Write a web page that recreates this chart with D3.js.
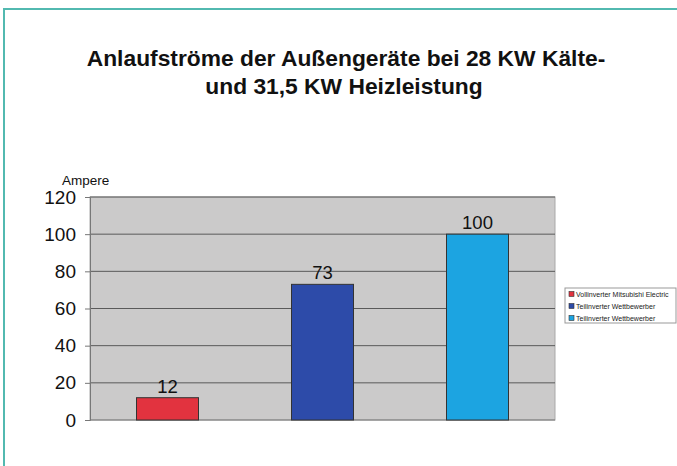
<!DOCTYPE html>
<html>
<head>
<meta charset="utf-8">
<script src="https://cdn.jsdelivr.net/npm/d3@7"></script>
<style>
  body { margin: 0; background: #fff; }
  svg text { font-family: "Liberation Sans", Arial, sans-serif; }
</style>
</head>
<body>
<div id="chart"></div>
<script>
// chart data
var categories = ["Vollinverter Mitsubishi Electric", "Teilinverter Wettbewerber", "Teilinverter Wettbewerber "];
var values = [12, 73, 100];
var barColors = ["#e2333f", "#2d4ba9", "#1ca4e1"];
var yTicks = [0, 20, 40, 60, 80, 100, 120];
var titleLines = ["Anlaufströme der Außengeräte bei 28 KW Kälte-", "und 31,5 KW Heizleistung"];

var svgWidth = 677;
var svgHeight = 466;

var margin = { top: 197, right: 122, bottom: 46, left: 90 };
var width = svgWidth - margin.left - margin.right;
var height = svgHeight - margin.top - margin.bottom;

var svg = d3.select("#chart")
  .append("svg")
  .attr("width", svgWidth)
  .attr("height", svgHeight);

// teal frame at top and left
svg.append("line")
  .attr("x1", 3).attr("y1", 9).attr("x2", svgWidth).attr("y2", 9)
  .attr("stroke", "#52b9b0").attr("stroke-width", 2);
svg.append("line")
  .attr("x1", 4).attr("y1", 8).attr("x2", 4).attr("y2", svgHeight)
  .attr("stroke", "#52b9b0").attr("stroke-width", 2);

// title
svg.selectAll(".title")
  .data(titleLines)
  .enter()
  .append("text")
  .attr("class", "title")
  .attr("x", (d, i) => i == 0 ? 346 : 344)
  .attr("y", (d, i) => 66 + i * 28)
  .style("text-anchor", "middle")
  .style("font-size", "22.8px")
  .style("font-weight", "bold")
  .style("fill", "#111")
  .text(d => d);

var chartGroup = svg.append("g")
  .attr("transform", `translate(${margin.left}, ${margin.top})`);

var xScale = d3.scaleBand()
  .domain(categories)
  .range([0, width])
  .paddingInner(0.6)
  .paddingOuter(0.3);

var yScale = d3.scaleLinear()
  .domain([0, 120])
  .range([height, 0]);

// plot background
chartGroup.append("rect")
  .attr("x", 0).attr("y", 0)
  .attr("width", width).attr("height", height)
  .attr("fill", "#cbcaca")
  .attr("stroke", "#a9a9a9");

// grid lines
chartGroup.selectAll(".grid")
  .data(yTicks.slice(1))
  .enter()
  .append("line")
  .attr("class", "grid")
  .attr("x1", 0).attr("x2", width)
  .attr("y1", d => yScale(d)).attr("y2", d => yScale(d))
  .attr("stroke", "#5a5a5a")
  .attr("stroke-width", 1);

var leftAxis = d3.axisLeft(yScale)
  .tickValues(yTicks)
  .tickSize(5)
  .tickPadding(9);

var yAxis = chartGroup.append("g").call(leftAxis);
yAxis.select(".domain").attr("stroke", "#777");
yAxis.selectAll(".tick line").attr("stroke", "#777");
yAxis.selectAll("text")
  .style("font-size", "19px")
  .style("fill", "#111");

chartGroup.append("line")
  .attr("x1", 0).attr("x2", width)
  .attr("y1", height).attr("y2", height)
  .attr("stroke", "#777");

chartGroup.append("text")
  .attr("x", -28)
  .attr("y", -12)
  .style("font-size", "13.5px")
  .style("fill", "#111")
  .text("Ampere");

// bars
chartGroup.selectAll(".bar")
  .data(values)
  .enter()
  .append("rect")
  .attr("class", "bar")
  .attr("x", (d, i) => xScale(categories[i]))
  .attr("y", d => yScale(d))
  .attr("width", xScale.bandwidth())
  .attr("height", d => height - yScale(d))
  .attr("fill", (d, i) => barColors[i])
  .attr("stroke", "#333")
  .attr("stroke-width", 1);

chartGroup.selectAll(".val")
  .data(values)
  .enter()
  .append("text")
  .attr("class", "val")
  .attr("x", (d, i) => xScale(categories[i]) + xScale.bandwidth() / 2)
  .attr("y", d => yScale(d) - 5)
  .style("text-anchor", "middle")
  .style("font-size", "18.5px")
  .style("fill", "#111")
  .text(d => d);

// legend
var legend = svg.append("g")
  .attr("transform", "translate(565, 288)");

legend.append("rect")
  .attr("width", 111).attr("height", 35)
  .attr("fill", "#fff")
  .attr("stroke", "#999");

var items = legend.selectAll(".item")
  .data(categories)
  .enter()
  .append("g")
  .attr("transform", (d, i) => `translate(4, ${6 + i * 12})`);

items.append("rect")
  .attr("x", 0).attr("y", -2.5)
  .attr("width", 5).attr("height", 5)
  .attr("fill", (d, i) => barColors[i])
  .attr("stroke", "#333")
  .attr("stroke-width", 0.6);

items.append("text")
  .attr("x", 7)
  .attr("y", 2.5)
  .style("font-size", "7px")
  .style("fill", "#222")
  .text(d => d.trim());
</script>
</body>
</html>
